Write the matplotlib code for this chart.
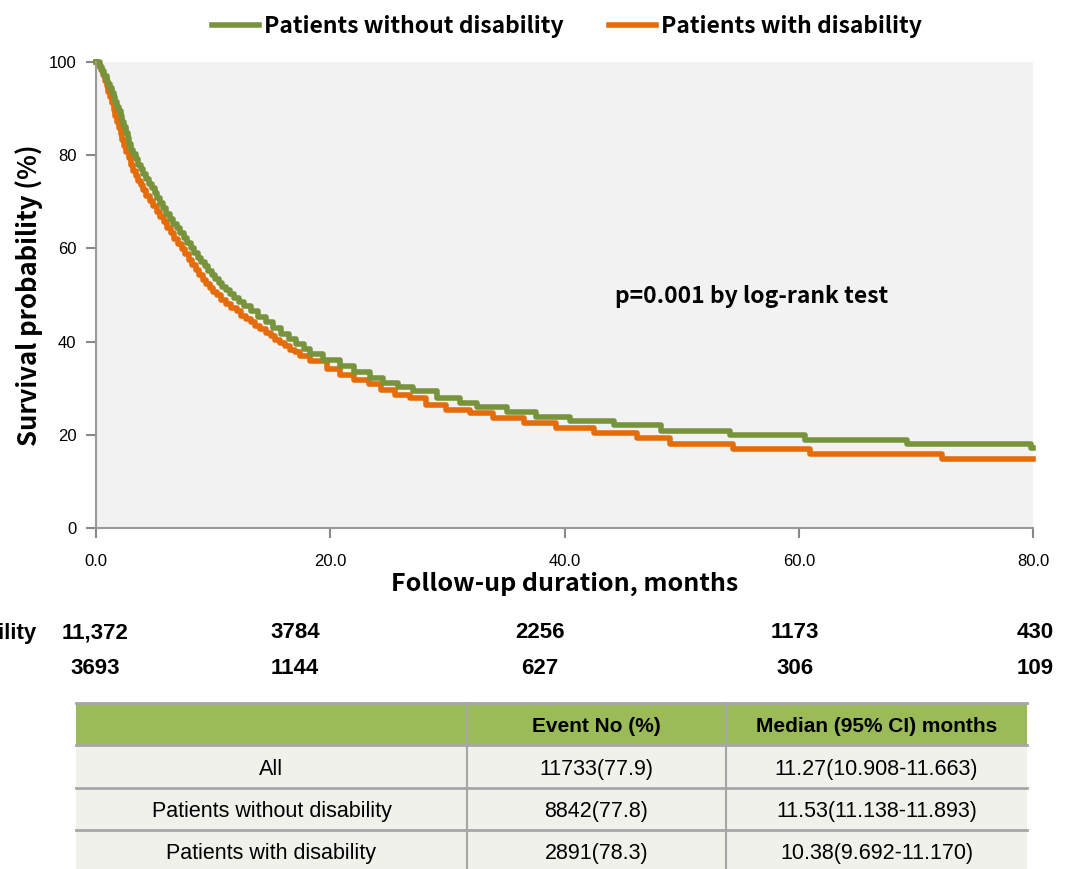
import matplotlib
matplotlib.use("Agg")
import matplotlib.pyplot as plt
from matplotlib.lines import Line2D
from matplotlib.patches import Rectangle

# Kaplan-Meier step points (months, survival %)
t_without = [0, 0.3, 0.5, 0.7, 0.9, 1.05, 1.2, 1.35, 1.5, 1.65, 1.8, 1.95, 2.1, 2.25, 2.4,
             2.55, 2.7, 2.85, 3.0, 3.2, 3.4, 3.6, 3.8, 4.0, 4.25, 4.5, 4.75, 5.0, 5.25, 5.5,
             5.75, 6.0, 6.3, 6.6, 6.9, 7.2, 7.5, 7.8, 8.1, 8.4, 8.7, 9.0, 9.3, 9.6, 9.9, 10.2,
             10.5, 10.8, 11.1, 11.4, 11.8, 12.2, 12.6, 13.2, 13.85, 14.5, 15.15, 15.8, 16.45,
             17.1, 17.75, 18.3, 19.4, 20.8, 22.0, 23.4, 24.5, 25.8, 27.1, 29.1, 31.1, 32.5,
             35.1, 37.6, 40.5, 44.2, 48.2, 54.1, 60.5, 69.2, 79.8, 80.0]
s_without = [100, 99, 98, 97, 96, 95.2, 94.4, 93.4, 92.4, 91.4, 90.4, 89.4, 88.4, 87.2, 86.0,
             84.8, 83.6, 82.4, 81.2, 80.2, 79.1, 78.0, 77.0, 75.9, 74.9, 73.9, 72.9, 71.9, 70.9,
             69.8, 68.6, 67.4, 66.3, 65.3, 64.3, 63.3, 62.3, 61.2, 60.1, 59.0, 58.0, 57.1, 56.2,
             55.2, 54.3, 53.4, 52.6, 51.8, 51.0, 50.3, 49.4, 48.5, 47.6, 46.6, 45.3, 44.1, 42.9,
             41.7, 40.6, 39.5, 38.5, 37.4, 36.0, 34.7, 33.4, 32.2, 31.1, 30.2, 29.3, 27.9, 26.8,
             25.9, 24.9, 23.9, 22.9, 22.0, 20.9, 20.0, 18.9, 18.0, 17.2, 17.2]

t_with = [0, 0.2, 0.4, 0.6, 0.75, 0.9, 1.05, 1.2, 1.35, 1.5, 1.65, 1.8, 1.95, 2.1, 2.25, 2.4,
          2.6, 2.8, 3.0, 3.2, 3.4, 3.6, 3.8, 4.0, 4.3, 4.6, 4.9, 5.2, 5.5, 5.8, 6.1, 6.4, 6.7,
          7.0, 7.3, 7.6, 7.9, 8.2, 8.5, 8.8, 9.1, 9.4, 9.7, 10.0, 10.3, 10.7, 11.1, 11.5, 12.0,
          12.4, 12.8, 13.2, 13.6, 14.0, 14.5, 14.9, 15.3, 15.7, 16.1, 16.6, 17.0, 17.4, 18.3,
          19.7, 20.8, 22.0, 23.3, 24.3, 25.5, 26.8, 28.2, 29.9, 31.9, 33.9, 36.5, 39.3, 42.5,
          46.2, 49.0, 54.4, 61.0, 72.2, 80.0]
s_with = [100, 99.2, 98.3, 97.2, 96.0, 94.8, 93.6, 92.4, 91.1, 89.8, 88.5, 87.2, 85.9, 84.6,
          83.3, 82.0, 80.6, 79.3, 78.0, 76.7, 75.6, 74.5, 73.5, 72.5, 71.3, 70.1, 69.0, 67.8,
          66.7, 65.6, 64.4, 63.2, 62.0, 60.9, 59.8, 58.7, 57.6, 56.5, 55.3, 54.2, 53.2, 52.3,
          51.5, 50.7, 49.9, 49.0, 48.1, 47.3, 46.5, 45.6, 44.9, 44.2, 43.4, 42.7, 41.9, 41.1,
          40.4, 39.7, 39.0, 38.3, 37.7, 37.0, 35.8, 34.1, 32.9, 31.8, 30.8, 29.7, 28.6, 27.9,
          26.5, 25.4, 24.7, 23.6, 22.5, 21.4, 20.4, 19.3, 18.0, 16.9, 15.9, 14.9, 14.9]

group_labels = ["Patients without disability", "Patients with disability"]
risk_without = ["11,372", "3784", "2256", "1173", "430"]
risk_with = ["3693", "1144", "627", "306", "109"]

x_ticks = [0, 20, 40, 60, 80]
y_ticks = [0, 20, 40, 60, 80, 100]

table_header = ["", "Event No (%)", "Median (95% CI) months"]
table_rows = [
    ["All", "11733(77.9)", "11.27(10.908-11.663)"],
    ["Patients without disability", "8842(77.8)", "11.53(11.138-11.893)"],
    ["Patients with disability", "2891(78.3)", "10.38(9.692-11.170)"],
]

GREEN = "#77933c"
ORANGE = "#e46c0a"
KR = ["Noto Sans CJK KR", "DejaVu Sans"]
ARIAL = ["Liberation Sans", "DejaVu Sans"]

W, H = 1065, 869
fig = plt.figure(figsize=(W / 100, H / 100), dpi=100)
ax = fig.add_axes([96 / W, 1 - 528 / H, (1033 - 96) / W, (528 - 62) / H])
ax.set_facecolor("#f2f2f2")

ax.plot(t_with, s_with, drawstyle="steps-post", color=ORANGE, lw=4,
        solid_joinstyle="round", label=group_labels[1], clip_on=False)
ax.plot(t_without, s_without, drawstyle="steps-post", color=GREEN, lw=4,
        solid_joinstyle="round", label=group_labels[0], clip_on=False)

ax.set_xlim(0, 80)
ax.set_ylim(0, 100)
ax.set_xticks(x_ticks)
ax.set_xticklabels([f"{v:.1f}" for v in x_ticks], family=ARIAL, fontsize=12)
ax.set_yticks(y_ticks)
ax.set_yticklabels([str(v) for v in y_ticks], family=ARIAL, fontsize=12)
ax.tick_params(axis="both", colors="#888888", length=7, width=1.5, labelcolor="black")
ax.tick_params(axis="x", pad=12)
ax.tick_params(axis="y", pad=7)
for side in ["top", "right"]:
    ax.spines[side].set_visible(False)
for side in ["left", "bottom"]:
    ax.spines[side].set_color("#999999")
    ax.spines[side].set_linewidth(1.5)

ax.set_xlabel("Follow-up duration, months", family=KR, fontsize=18, fontweight="bold",
              labelpad=2)
ax.set_ylabel("Survival probability (%)", family=KR, fontsize=18.5, fontweight="bold",
              labelpad=4)
ax.text(44.3, 49.7, "p=0.001 by log-rank test", family=KR, fontsize=16.5,
        fontweight="bold", va="center", ha="left")

handles = [Line2D([], [], color=GREEN, lw=4), Line2D([], [], color=ORANGE, lw=4)]
fig.legend(handles, group_labels, loc="center", bbox_to_anchor=(567 / W, 1 - 27 / H),
           ncol=2, frameon=False, handlelength=2.05, handletextpad=0.2,
           columnspacing=2.0, prop={"family": KR, "size": 16.5, "weight": "bold"})

# overlay in pixel coordinates for the risk rows and the summary table
ov = fig.add_axes([0, 0, 1, 1], facecolor="none")
ov.set_xlim(0, W)
ov.set_ylim(H, 0)
ov.axis("off")

risk_x = [95, 295, 540, 795, 1035]
ov.text(36, 633, group_labels[0], ha="right", va="center", family=ARIAL, fontsize=16,
        fontweight="bold")
ov.text(-3, 669, group_labels[1], ha="right", va="center", family=ARIAL, fontsize=16,
        fontweight="bold")
for y, vals in zip([633, 669], [risk_without, risk_with]):
    for x, v in zip(risk_x, vals):
        ov.text(x, y, v, ha="center", va="center", family=ARIAL, fontsize=16,
                fontweight="bold")

col_x = [76, 467, 726, 1027]
row_y = [703, 745, 788, 830, 872]
ov.add_patch(Rectangle((col_x[0], row_y[0]), col_x[-1] - col_x[0], row_y[1] - row_y[0],
                       facecolor="#9bbb59", edgecolor="none"))
ov.add_patch(Rectangle((col_x[0], row_y[1]), col_x[-1] - col_x[0], row_y[-1] - row_y[1],
                       facecolor="#eff1ea", edgecolor="none"))
for y in row_y[:-1]:
    ov.plot([col_x[0], col_x[-1]], [y, y], color="#a6a6a6", lw=2)
for x in col_x[1:-1]:
    ov.plot([x, x], [row_y[0], row_y[-1]], color="#a6a6a6", lw=1.5)

centers_x = [(col_x[i] + col_x[i + 1]) / 2 for i in range(3)]
for cx, txt in zip(centers_x, table_header):
    ov.text(cx, (row_y[0] + row_y[1]) / 2 + 3, txt, ha="center", va="center",
            family=ARIAL, fontsize=15, fontweight="bold")
for r, row in enumerate(table_rows):
    cy = (row_y[r + 1] + row_y[r + 2]) / 2 + 3
    for cx, txt in zip(centers_x, row):
        ov.text(cx, cy, txt, ha="center", va="center", family=ARIAL, fontsize=15.5)

fig.savefig("out.png", dpi=100)
